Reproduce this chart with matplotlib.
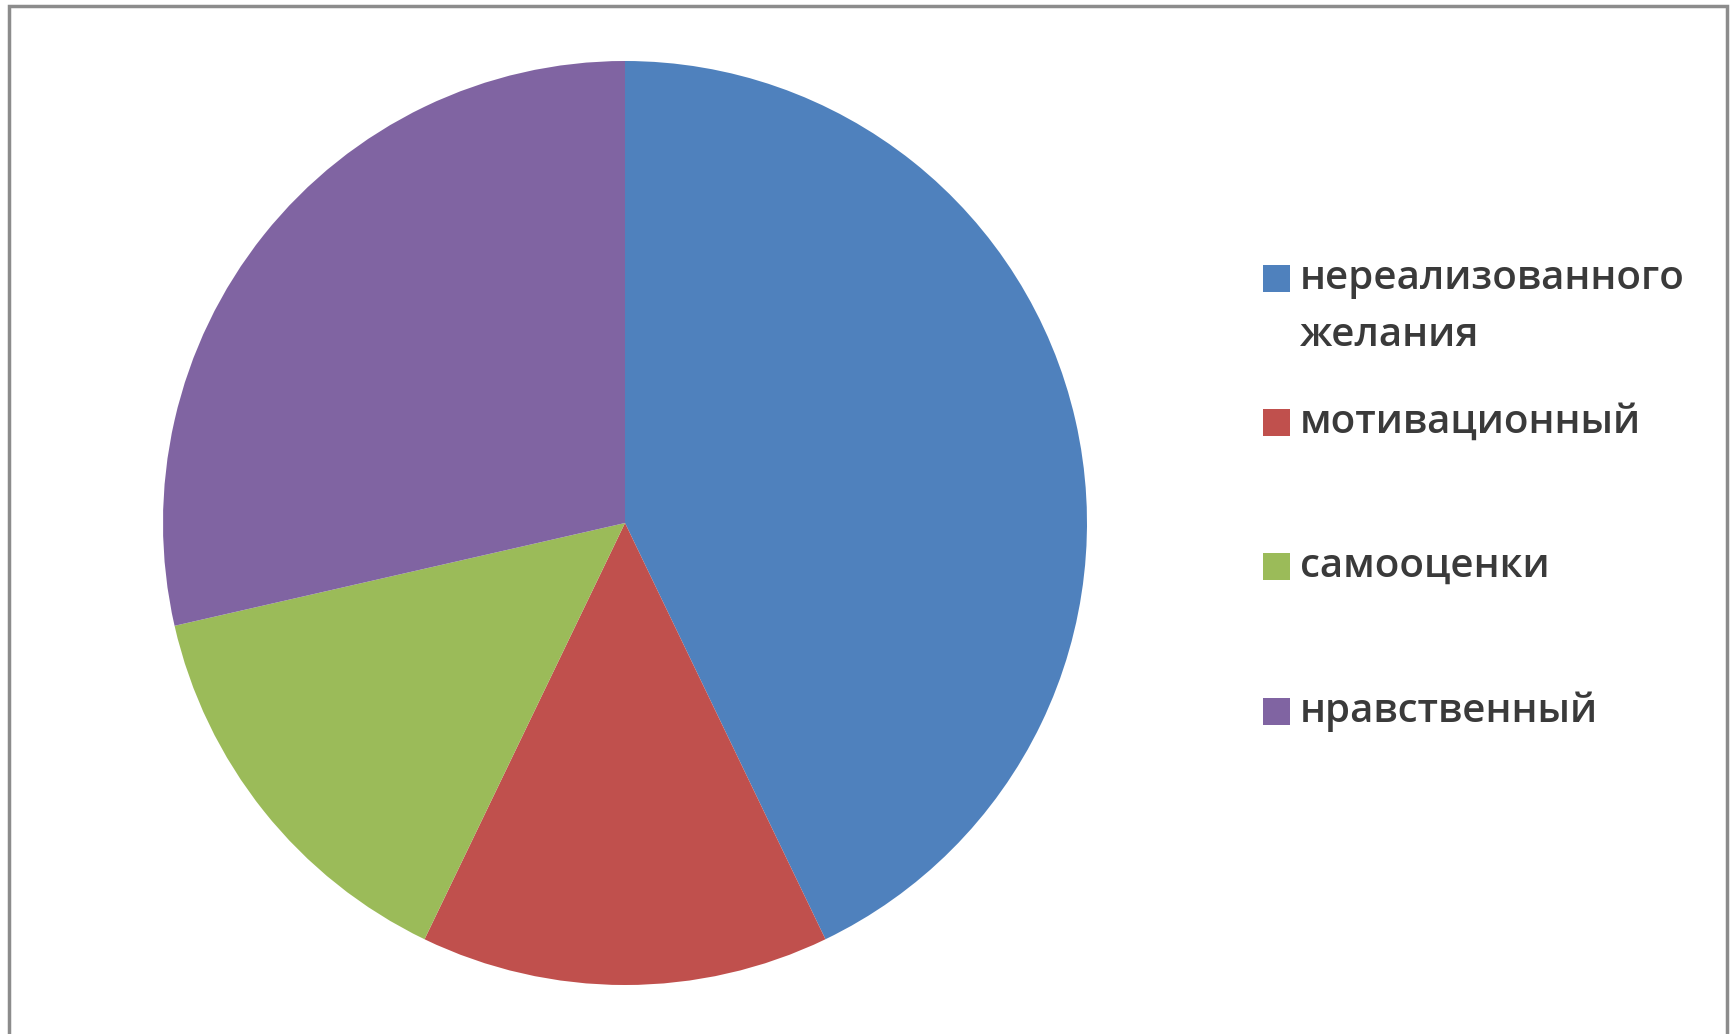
import matplotlib.pyplot as plt
from matplotlib.patches import Rectangle

# Données du diagramme
categories = ["нереализованного\nжелания", "мотивационный", "самооценки", "нравственный"]
values = [3, 1, 1, 2]
colors = ["#4F81BD", "#C0504D", "#9BBB59", "#8064A2"]

W, H = 1734, 1034
fig = plt.figure(figsize=(W / 100, H / 100), dpi=100)
fig.patch.set_facecolor("white")

# Cadre gris autour du graphique
fig.patches.append(Rectangle((9 / W, -0.05), (1727 - 9) / W, 1.05 - 6 / H,
                             transform=fig.transFigure, fill=False,
                             edgecolor="#8c8c8c", linewidth=2.5))

# Camembert : centre (625, 523) px, rayon 462 px
cx, cy, r = 625, 523, 462
ax = fig.add_axes([(cx - r) / W, (H - cy - r) / H, 2 * r / W, 2 * r / H])
ax.pie(values, colors=colors, startangle=90, counterclock=False,
       wedgeprops=dict(linewidth=0))
ax.set_xlim(-1, 1)
ax.set_ylim(-1, 1)
ax.set_aspect("equal")

# Légende dessinée à la main
legend_y = [279, 423, 567, 712]
for label, col, y in zip(categories, colors, legend_y):
    fig.patches.append(Rectangle((1263 / W, (H - y - 13) / H), 27 / W, 27 / H,
                                 transform=fig.transFigure, facecolor=col,
                                 edgecolor="none"))
    lines = label.split("\n")
    for i, line in enumerate(lines):
        fig.text(1300 / W, (H - y - 57 * i) / H, line, fontsize=29,
                 family="Open Sans", weight="semibold", color="#3a3a3a",
                 va="center", ha="left")

fig.savefig("out.png", dpi=100)
